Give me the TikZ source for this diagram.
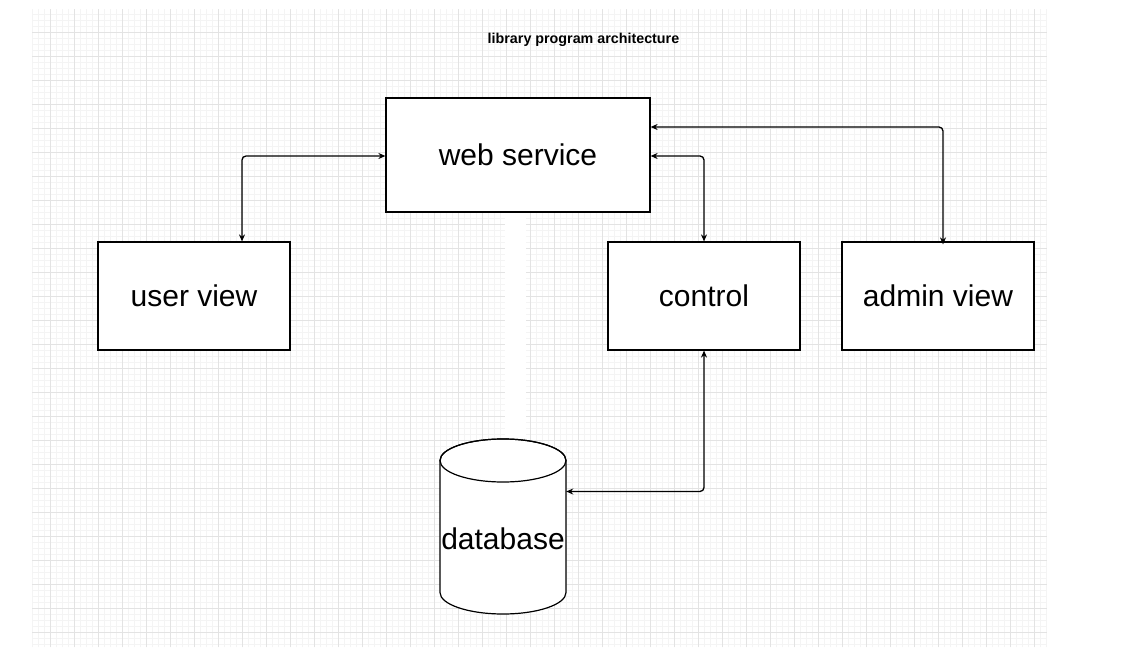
\documentclass[tikz,border=0pt]{standalone}
\usepackage{fontspec}
\setmainfont{Liberation Sans}
\usetikzlibrary{arrows.meta}
\definecolor{gridminor}{HTML}{F4F4F4}
\definecolor{gridmajor}{HTML}{E3E3E3}
\tikzset{
  box/.style={draw=black, fill=white, line width=1.2pt, rectangle, inner sep=0pt,
    font=\fontsize{30}{36}\selectfont},
  conn/.style={line width=1.3pt, rounded corners=4pt,
    {Stealth[length=7pt,width=6pt]}-{Stealth[length=7pt,width=6pt]}},
  ttl/.style={font=\bfseries\fontsize{14.3}{17}\selectfont}
}
\begin{document}
\begin{tikzpicture}[x=1pt,y=1pt]
\useasboundingbox (0,0) rectangle (1127,665);
\fill[white] (0,0) rectangle (1127,665);
% grid
\foreach \gx in {32,38,...,1046} \draw[gridminor, line width=0.6pt] (\gx,18) -- (\gx,656);
\foreach \gy in {21,27,...,651} \draw[gridminor, line width=0.6pt] (32,\gy) -- (1047,\gy);
\foreach \gx in {50,74,...,1046} \draw[gridmajor, line width=0.8pt] (\gx,18) -- (\gx,656);
\foreach \gy in {33,57,...,633} \draw[gridmajor, line width=0.8pt] (32,\gy) -- (1047,\gy);
% faint hidden strip
\fill[white] (505,227) rectangle (526,453);
% title
\node[ttl] (title) at (583.5,625) {library program architecture};
% boxes
\node[box, minimum width=264pt, minimum height=114pt] (web) at (518,510) {web service};
\node[box, minimum width=192pt, minimum height=108pt] (user) at (194,369) {user view};
\node[box, minimum width=192pt, minimum height=108pt] (control) at (704,369) {control};
\node[box, minimum width=192pt, minimum height=108pt] (admin) at (938,369) {admin view};
% database cylinder
\draw[fill=white, line width=1.2pt] (440,204.5) -- (440,72.5)
  arc[start angle=180, end angle=360, x radius=63, y radius=21.5]
  -- (566,204.5) arc[start angle=0, end angle=180, x radius=63, y radius=21.5] -- cycle;
\draw[line width=1.2pt] (503,204.5) ellipse[x radius=63, y radius=21.5];
\node[minimum width=126pt, minimum height=175pt, inner sep=0pt,
  font=\fontsize{30}{36}\selectfont] (db) at (503,126) {database};
% connectors
\draw[conn] ([xshift=48pt]user.north) |- ([yshift=-1pt]web.west);
\draw[conn] ([yshift=-1pt]web.east) -| (control.north);
\draw[conn] ([yshift=28pt]web.east) -| ([xshift=5pt,yshift=-3pt]admin.north);
\draw[conn] (control.south) |- ([yshift=47.5pt]db.east);
\end{tikzpicture}
\end{document}
